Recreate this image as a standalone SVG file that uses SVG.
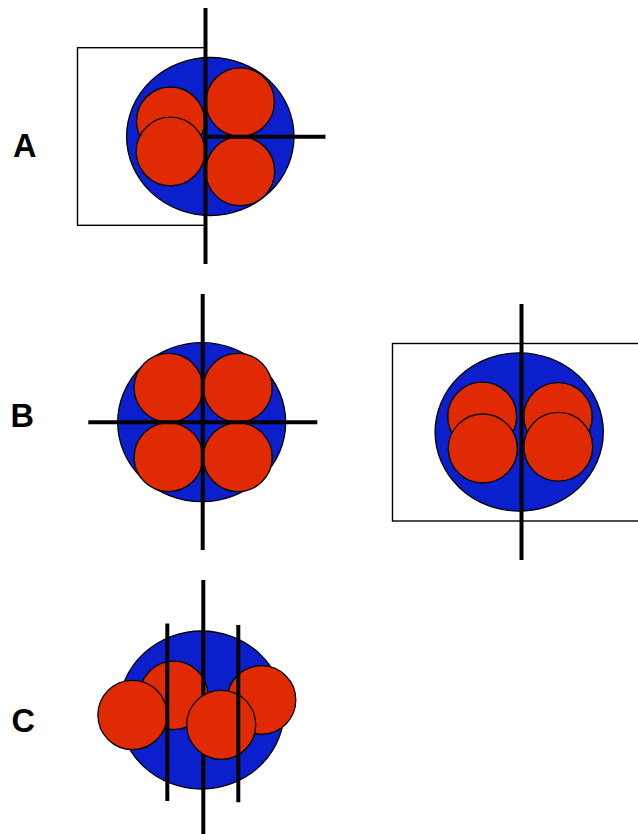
<svg xmlns="http://www.w3.org/2000/svg" width="638" height="834" viewBox="0 0 638 834">
<style>
.bg{fill:#ffffff}
.frame{fill:none;stroke:#000;stroke-width:1.4}
.blue{fill:#0b20cc;stroke:#000;stroke-width:1.3}
.red{fill:#e02a04;stroke:#000;stroke-width:1.3}
.bar{stroke:#000;stroke-width:4;fill:none}
.lbl{font-family:"Liberation Sans",Arial,sans-serif;font-weight:bold;font-size:32.5px;fill:#000}
</style>
<rect class="bg" x="0" y="0" width="638" height="834"/>
<g id="A">
<text class="lbl" x="13" y="157">A</text>
<rect class="frame" x="77.5" y="47.7" width="127.5" height="177.6"/>
<ellipse class="blue" cx="210.3" cy="136.5" rx="83.7" ry="79"/>
<circle class="red" cx="170.5" cy="121" r="34"/>
<circle class="red" cx="170.5" cy="151.5" r="34.3"/>
<circle class="red" cx="240.2" cy="102" r="34.2"/>
<circle class="red" cx="240.2" cy="171.2" r="34.5"/>
<g id="A-lines">
<line class="bar" x1="205.5" y1="8" x2="205.5" y2="264"/>
<line class="bar" x1="205.5" y1="136.7" x2="325.5" y2="136.7"/>
</g>
</g>
<g id="B-left">
<text class="lbl" x="10.5" y="426.7">B</text>
<ellipse class="blue" cx="201.7" cy="422.2" rx="84" ry="79.5"/>
<circle class="red" cx="168.5" cy="387.8" r="34.4"/>
<circle class="red" cx="237.8" cy="387.8" r="34.4"/>
<circle class="red" cx="168.5" cy="457.2" r="34.4"/>
<circle class="red" cx="237.8" cy="457.2" r="34.4"/>
<g id="B-left-lines">
<line class="bar" x1="202.7" y1="294" x2="202.7" y2="550"/>
<line class="bar" x1="88.3" y1="422.3" x2="317.3" y2="422.3"/>
</g>
</g>
<g id="B-right">
<rect class="frame" x="392.5" y="343.5" width="260" height="177.5"/>
<ellipse class="blue" cx="519.2" cy="432" rx="84.1" ry="79.1"/>
<circle class="red" cx="482.2" cy="416.6" r="34.4"/>
<circle class="red" cx="558" cy="416.8" r="34.2"/>
<circle class="red" cx="482.8" cy="448.5" r="34.5"/>
<circle class="red" cx="558.3" cy="446.8" r="34.4"/>
<line class="bar" x1="521.5" y1="304" x2="521.5" y2="560"/>
</g>
<g id="C">
<text class="lbl" x="11.5" y="731.5">C</text>
<ellipse class="blue" cx="201.5" cy="710" rx="82.8" ry="79"/>
<circle class="red" cx="173.7" cy="695.4" r="34.2"/>
<circle class="red" cx="132.5" cy="715" r="34.6"/>
<line class="bar" x1="203.3" y1="580" x2="203.3" y2="834"/>
<circle class="red" cx="261.5" cy="700" r="34.3"/>
<circle class="red" cx="221.2" cy="724.8" r="34.5"/>
<g id="C-lines">
<line class="bar" x1="167.3" y1="623.5" x2="167.3" y2="801"/>
<line class="bar" x1="238.3" y1="625" x2="238.3" y2="802.3"/>
</g>
</g>
</svg>
